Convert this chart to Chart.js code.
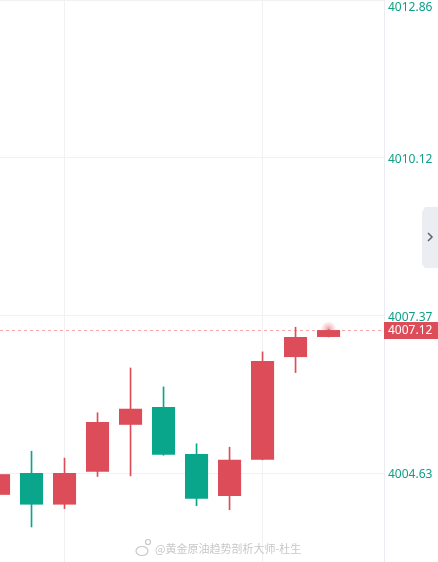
<!DOCTYPE html>
<html>
<head>
<meta charset="utf-8">
<script src="https://cdn.jsdelivr.net/npm/chart.js@4/dist/chart.umd.min.js"></script>
<style>
  html, body { margin: 0; padding: 0; background: #fff; }
  #wrap { position: relative; width: 438px; height: 562px; }
</style>
</head>
<body>
<div id="wrap"><canvas id="kline" width="438" height="562"></canvas></div>
<script>
'use strict';

// K线数据
const candleIdx = [0, 1, 2, 3, 4, 5, 6, 7, 8, 9, 10];
const opens  = [4004.25, 4004.63, 4004.08, 4004.65, 4005.47, 4005.78, 4004.96, 4004.23, 4004.86, 4006.65, 4007.00];
const closes = [4004.61, 4004.08, 4004.63, 4005.52, 4005.75, 4004.95, 4004.18, 4004.86, 4006.58, 4007.00, 4007.12];
const highs  = [4004.66, 4005.01, 4004.89, 4005.68, 4006.46, 4006.13, 4005.14, 4005.08, 4006.74, 4007.17, 4007.13];
const lows   = [4004.20, 4003.69, 4004.01, 4004.57, 4004.58, 4004.94, 4004.06, 4003.99, 4004.86, 4006.38, 4007.00];

// 价格轴
const yTicks = [4004.63, 4007.37, 4010.12, 4012.86];
const xGridAt = [2, 8];
const lastPrice = 4007.12;
const watermark = '@黄金原油趋势剖析大师-杜生';

const upColor = '#dc4d59';
const downColor = '#0aa68b';
const tickColor = '#10a088';
const gridColor = '#f1f1f4';

const candleColors = candleIdx.map((i) => (closes[i] >= opens[i] ? upColor : downColor));

// 价格线・标签・水印
const overlayPlugin = {
  id: 'overlay',
  beforeDatasetsDraw(chart) {
    const { ctx, chartArea } = chart;
    const y = chart.scales.y.getPixelForValue(lastPrice);
    ctx.save();
    ctx.strokeStyle = '#f4a6ac';
    ctx.lineWidth = 1;
    ctx.setLineDash([3, 3]);
    ctx.beginPath();
    ctx.moveTo(chartArea.left, Math.round(y) + 0.5);
    ctx.lineTo(chartArea.right, Math.round(y) + 0.5);
    ctx.stroke();
    ctx.restore();
  },
  afterDraw(chart) {
    const { ctx, chartArea } = chart;
    const yScale = chart.scales.y;
    const xScale = chart.scales.x;
    ctx.save();

    // 价格刻度
    ctx.font = '12px "Noto Sans", sans-serif';
    ctx.fillStyle = tickColor;
    ctx.textBaseline = 'middle';
    ctx.textAlign = 'left';
    yTicks.forEach((v) => {
      const py = Math.max(yScale.getPixelForValue(v) + 2, 8);
      ctx.fillText(v.toFixed(2), chartArea.right + 4, py);
    });

    // 最新价标签
    const py = yScale.getPixelForValue(lastPrice);
    ctx.fillStyle = upColor;
    ctx.fillRect(chartArea.right, Math.round(py) - 8, chart.width - chartArea.right, 17);
    ctx.fillStyle = '#fff';
    ctx.fillText(lastPrice.toFixed(2), chartArea.right + 4, Math.round(py) + 1);

    // 最新K线的呼吸点
    const px = xScale.getPixelForValue(candleIdx[candleIdx.length - 1]);
    const g = ctx.createRadialGradient(px, py - 1, 0, px, py - 1, 8);
    g.addColorStop(0, 'rgba(220,77,89,0.55)');
    g.addColorStop(0.5, 'rgba(220,77,89,0.25)');
    g.addColorStop(1, 'rgba(220,77,89,0)');
    ctx.fillStyle = g;
    ctx.beginPath();
    ctx.arc(px, py - 1, 8, 0, Math.PI * 2);
    ctx.fill();

    // 右侧收起按钮
    ctx.fillStyle = '#ececf3';
    ctx.beginPath();
    ctx.moveTo(chart.width, 207);
    ctx.lineTo(425, 207);
    ctx.lineTo(422, 212);
    ctx.lineTo(422, 264);
    ctx.lineTo(425, 268);
    ctx.lineTo(chart.width, 268);
    ctx.closePath();
    ctx.fill();
    ctx.strokeStyle = '#5d6270';
    ctx.lineWidth = 1.5;
    ctx.beginPath();
    ctx.moveTo(428, 233);
    ctx.lineTo(432, 237);
    ctx.lineTo(428, 241);
    ctx.stroke();

    // 水印
    ctx.font = '11px "Noto Sans CJK SC", sans-serif';
    ctx.textAlign = 'left';
    ctx.shadowColor = 'rgba(255,255,255,1)';
    ctx.shadowBlur = 3;
    ctx.fillStyle = 'rgba(180,180,180,0.75)';
    ctx.fillText(watermark, 155, 549);
    ctx.strokeStyle = 'rgba(180,180,180,0.75)';
    ctx.lineWidth = 1.2;
    ctx.beginPath();
    ctx.ellipse(142, 551, 6, 4.5, 0, 0, Math.PI * 2);
    ctx.stroke();
    ctx.beginPath();
    ctx.arc(148, 542, 2.5, 0, Math.PI * 2);
    ctx.stroke();
    ctx.restore();
  },
};

const ctx = document.getElementById('kline').getContext('2d');

const klineChart = new Chart(ctx, {
  type: 'bar',
  data: {
    datasets: [
      {
        // 实体
        data: candleIdx.map((i) => ({ x: i, y: [opens[i], closes[i]] })),
        backgroundColor: candleColors,
        borderWidth: 0,
        barPercentage: 0.7,
        categoryPercentage: 1,
        grouped: false,
        minBarLength: 1,
        order: 1,
      },
      {
        // 影线
        data: candleIdx.map((i) => ({ x: i, y: [lows[i], highs[i]] })),
        backgroundColor: candleColors,
        borderWidth: 0,
        barThickness: 1,
        grouped: false,
        order: 2,
      },
    ],
  },
  options: {
    responsive: false,
    animation: false,
    layout: { padding: 0 },
    plugins: {
      legend: { display: false },
      tooltip: { enabled: false },
    },
    scales: {
      x: {
        type: 'linear',
        min: 0.045,
        max: 11.68,
        offset: false,
        afterBuildTicks: (scale) => {
          scale.ticks = xGridAt.map((v) => ({ value: v }));
        },
        afterFit: (scale) => {
          scale.height = 0;
        },
        ticks: { display: false },
        grid: { color: gridColor, drawTicks: false, offset: false },
        border: { display: false },
      },
      y: {
        position: 'right',
        min: 4003.08,
        max: 4012.87,
        afterBuildTicks: (scale) => {
          scale.ticks = yTicks.map((v) => ({ value: v }));
        },
        afterFit: (scale) => {
          scale.width = 54;
        },
        ticks: { display: false },
        grid: { color: gridColor, drawTicks: false },
        border: { display: true, color: '#ebecf1' },
      },
    },
  },
  plugins: [overlayPlugin],
});
</script>
</body>
</html>
